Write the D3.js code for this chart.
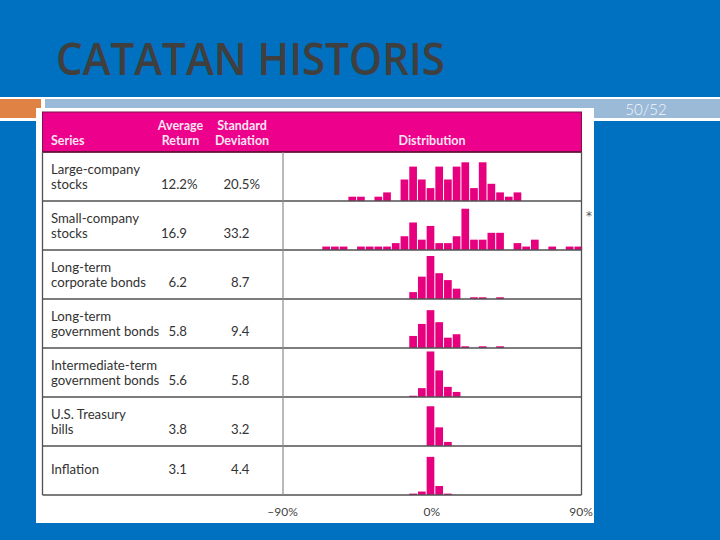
<!DOCTYPE html>
<html>
<head>
<meta charset="utf-8">
<script src="https://cdn.jsdelivr.net/npm/d3@7/dist/d3.min.js"></script>
<style>
  html, body { margin: 0; padding: 0; background: #0070C0; }
  svg { display: block; }
</style>
</head>
<body>
<script>
// ---------- DATA ----------
const title = "CATATAN HISTORIS";
const pageLabel = "50/52";
const headerSeries = "Series";
const headerAvg = ["Average", "Return"];
const headerStd = ["Standard", "Deviation"];
const headerDist = "Distribution";

const seriesLabels = [
  ["Large-company", "stocks"],
  ["Small-company", "stocks"],
  ["Long-term", "corporate bonds"],
  ["Long-term", "government bonds"],
  ["Intermediate-term", "government bonds"],
  ["U.S. Treasury", "bills"],
  ["Inflation"]
];
const avgReturn = ["12.2", "16.9", "6.2", "5.8", "5.6", "3.8", "3.1"];
const stdDev    = ["20.5", "33.2", "8.7", "9.4", "5.8", "3.2", "4.4"];
const pctSuffixRow = 0; // first row shows the % sign

// Histogram bins (bin centre, % return, 5% wide) and frequencies (years)
const largeBins   = [-45, -40, -30, -25, -15, -10, -5, 0, 5, 10, 15, 20, 25, 30, 35, 40, 45, 50];
const largeCounts = [1, 1, 1, 2, 5, 8, 5, 3, 8, 5, 8, 9, 3, 9, 4, 2, 1, 2];

const smallBins   = [-60, -55, -50, -40, -35, -30, -25, -20, -15, -10, -5, 0, 5, 10, 15, 20, 25, 30, 35, 40, 50, 55, 60, 70, 80, 85];
const smallCounts = [1, 1, 1, 1, 1, 1, 1, 2, 4, 8, 3, 7, 2, 2, 4, 12, 3, 3, 5, 5, 2, 1, 3, 1, 1, 1];

const corpBins    = [-10, -5, 0, 5, 10, 15, 25, 30, 40];
const corpCounts  = [4, 13, 25, 15, 11, 6, 1, 1, 1];

const govBins     = [-10, -5, 0, 5, 10, 15, 20, 30, 40];
const govCounts   = [7, 14, 22, 15, 6, 8, 1, 1, 1];

const interBins   = [-10, -5, 0, 5, 10, 15];
const interCounts = [1, 7, 36, 21, 8, 4];

const billBins    = [0, 5, 10];
const billCounts  = [49, 23, 5];

const inflBins    = [-10, -5, 0, 5, 10];
const inflCounts  = [2, 5, 55, 13, 2];

// per-row frequency scale maxima (as drawn in the figure)
const freqMax = [10, 12.5, 25, 25, 34, 53, 62];

const tickValues = [-90, 0, 90];
const tickLabels = ["\u201390%", "0%", "90%"];
const outlierMark = "*";

// ---------- LAYOUT ----------
const W = 720, H = 540;
const tableL = 42.5, tableR = 581.5, colDiv = 283;
const headTop = 112, headBot = 152, rowH = 49;
const barMaxH = 43;
const binW = 5;

const svg = d3.select("body").append("svg").attr("width", W).attr("height", H);

svg.append("rect").attr("width", W).attr("height", H).attr("fill", "#0070C0");

svg.append("text")
  .attr("x", 56).attr("y", 75)
  .attr("font-family", "'Open Sans', Lato, sans-serif")
  .attr("font-weight", 600)
  .attr("font-size", 45)
  .attr("textLength", 389).attr("lengthAdjust", "spacingAndGlyphs")
  .attr("fill", "#3F3F3F")
  .text(title);

// decorative band
svg.append("rect").attr("x", 0).attr("y", 97).attr("width", W).attr("height", 24).attr("fill", "#FFFFFF");
svg.append("rect").attr("x", 0).attr("y", 99).attr("width", 41).attr("height", 19).attr("fill", "#DF8243");
svg.append("rect").attr("x", 45).attr("y", 99).attr("width", W - 45).attr("height", 19).attr("fill", "#9BBAD8");
svg.append("text")
  .attr("x", 646).attr("y", 115).attr("text-anchor", "middle")
  .attr("font-family", "Lato, 'Open Sans', sans-serif").attr("font-weight", 300)
  .attr("font-size", 15).attr("fill", "#F2F6FA")
  .text(pageLabel);

// white picture panel
svg.append("rect").attr("x", 36).attr("y", 108).attr("width", 558).attr("height", 415).attr("fill", "#FFFFFF");

// header
svg.append("rect").attr("x", tableL).attr("y", headTop).attr("width", tableR - tableL).attr("height", headBot - headTop)
  .attr("fill", "#EC008C").attr("stroke", "#7A1448").attr("stroke-width", 1);

const headFont = "Lato, 'Open Sans', sans-serif";
const hdr = svg.append("g").attr("font-family", headFont).attr("font-weight", 700).attr("font-size", 12.5).attr("fill", "#FCE4F1");
hdr.append("text").attr("x", 51).attr("y", 145).text(headerSeries);
headerAvg.forEach((t, i) => hdr.append("text").attr("x", 180.5).attr("y", 130 + 15 * i).attr("text-anchor", "middle").text(t));
headerStd.forEach((t, i) => hdr.append("text").attr("x", 242).attr("y", 130 + 15 * i).attr("text-anchor", "middle").text(t));
hdr.append("text").attr("x", 432).attr("y", 144.5).attr("text-anchor", "middle").text(headerDist);

// histogram scale
const xb = d3.scaleLinear().domain([-90, 90]).range([274, 587]);
const axisScale = d3.scaleLinear().domain([-90, 90]).range([colDiv - 1, tableR - 1]);

const rows = [
  { bins: largeBins, counts: largeCounts },
  { bins: smallBins, counts: smallCounts },
  { bins: corpBins,  counts: corpCounts },
  { bins: govBins,   counts: govCounts },
  { bins: interBins, counts: interCounts },
  { bins: billBins,  counts: billCounts },
  { bins: inflBins,  counts: inflCounts }
];

const textG = svg.append("g").attr("font-family", headFont).attr("font-size", 13.2).attr("fill", "#333333");

rows.forEach((r, i) => {
  const top = headBot + rowH * i;
  const base = top + rowH;
  const y = d3.scaleLinear().domain([0, freqMax[i]]).range([0, barMaxH]);
  const data = r.bins.map((b, k) => ({ b, c: r.counts[k] }));
  svg.append("g").selectAll("rect").data(data).join("rect")
    .attr("x", d => xb(d.b - binW / 2) + 0.5)
    .attr("width", d => xb(d.b + binW / 2) - xb(d.b - binW / 2) - 1)
    .attr("y", d => base - y(d.c))
    .attr("height", d => y(d.c))
    .attr("fill", "#E6007E");

  const lines = seriesLabels[i];
  const lastY = lines.length === 1 ? top + 28 : top + 36.5;
  lines.forEach((t, k) => {
    textG.append("text").attr("x", 51).attr("y", lines.length === 1 ? lastY : top + 22 + 14.5 * k).text(t);
  });
  textG.append("text").attr("x", 187).attr("y", lastY).attr("text-anchor", "end").text(avgReturn[i]);
  textG.append("text").attr("x", 249.5).attr("y", lastY).attr("text-anchor", "end").text(stdDev[i]);
  if (i === pctSuffixRow) {
    textG.append("text").attr("x", 187).attr("y", lastY).text("%");
    textG.append("text").attr("x", 249.5).attr("y", lastY).text("%");
  }
});

// table lines
const lineG = svg.append("g");
d3.range(1, rows.length + 1).forEach(k => {
  lineG.append("line").attr("x1", tableL).attr("x2", tableR)
    .attr("y1", headBot + rowH * k).attr("y2", headBot + rowH * k)
    .attr("stroke", "#505050").attr("stroke-width", 1.3);
});
lineG.append("line").attr("x1", tableL).attr("x2", tableR).attr("y1", headBot).attr("y2", headBot)
  .attr("stroke", "#5A1034").attr("stroke-width", 1.3);
lineG.append("line").attr("x1", colDiv).attr("x2", colDiv).attr("y1", headBot).attr("y2", headBot + rowH * rows.length)
  .attr("stroke", "#8A8A8A").attr("stroke-width", 1.2);
[tableL, tableR].forEach(x => lineG.append("line").attr("x1", x).attr("x2", x)
  .attr("y1", headBot).attr("y2", headBot + rowH * rows.length)
  .attr("stroke", "#505050").attr("stroke-width", 1.3));

// axis labels
const axisG = svg.append("g").attr("transform", `translate(0,${504})`)
  .call(d3.axisBottom(axisScale).tickValues(tickValues).tickFormat((d, i) => tickLabels[i]).tickSize(0));
axisG.select(".domain").remove();
axisG.selectAll("text").attr("font-family", headFont).attr("font-size", 12).attr("fill", "#444");

// outlier marker for small-company stocks
svg.append("text").attr("x", 589).attr("y", 220).attr("text-anchor", "middle")
  .attr("font-family", "'DejaVu Sans', sans-serif").attr("font-size", 12).attr("fill", "#555").text(outlierMark);
</script>
</body>
</html>
